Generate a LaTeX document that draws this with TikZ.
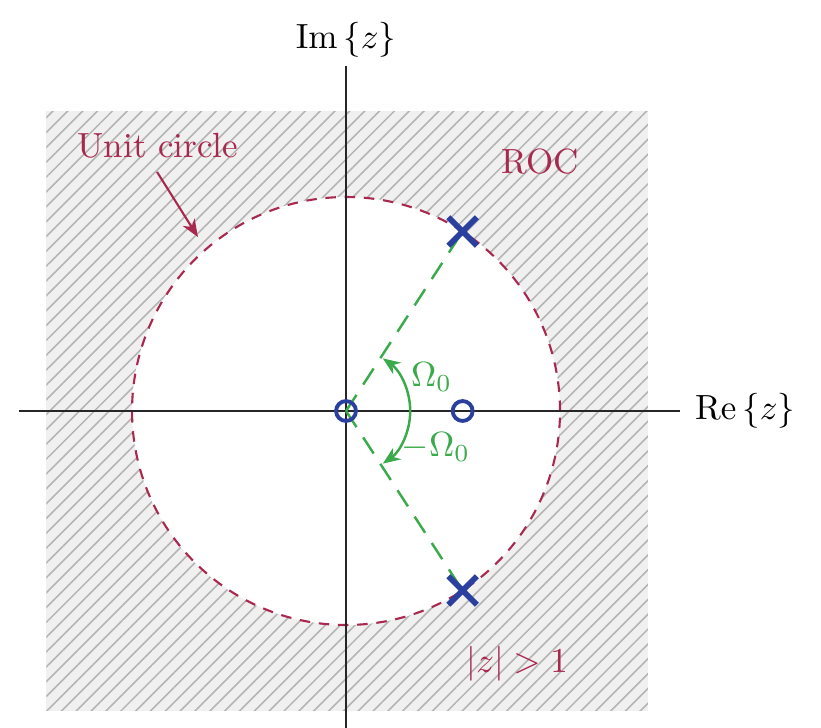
\documentclass[tikz,border=0pt]{standalone}
\usetikzlibrary{patterns.meta,arrows.meta,shapes.misc}
\definecolor{rocred}{HTML}{A8284E}
\definecolor{pzblue}{HTML}{2A3F9E}
\definecolor{angreen}{HTML}{3AAA4A}
\definecolor{hatchgray}{HTML}{B4B4B4}
\definecolor{roc}{HTML}{F0F0F0}
\begin{document}
\begin{tikzpicture}[x=2.15cm,y=2.15cm,
  axis/.style={line width=0.6pt,black!85},
  pole/.style={cross out,draw=pzblue,line width=1.6pt,minimum size=0.23cm,inner sep=0pt},
  zero/.style={circle,draw=pzblue,line width=1.1pt,minimum size=0.2cm,inner sep=0pt},
  anglab/.style={text=angreen},
  redlab/.style={text=rocred}]
\useasboundingbox (-1.617,-1.4813) rectangle (2.2196,1.9206);
% ROC shading
\fill[roc] (-1.4,-1.4) rectangle (1.41,1.4);
\fill[pattern={Lines[angle=45,distance=3pt,line width=0.45pt]},pattern color=hatchgray] (-1.4,-1.4) rectangle (1.41,1.4);
% unit circle interior
\fill[white] (0,0) circle (1);
\draw[rocred,line width=0.6pt,dash pattern=on 3pt off 2.5pt] (0,0) circle (1);
% axes
\coordinate (xl) at (-1.53,0);
\coordinate (xr) at (1.56,0);
\coordinate (yb) at (0,-1.48);
\coordinate (yt) at (0,1.61);
\draw[axis] (xl) -- (xr);
\draw[axis] (yb) -- (yt);
\node[text=black] (re) at (1.865,0) {$\mathrm{Re}\left\{z\right\}$};
\node[text=black] (im) at (0,1.734) {$\mathrm{Im}\left\{z\right\}$};
% poles and zeros
\coordinate (o) at (0,0);
\coordinate (p1) at (57:1);
\coordinate (p2) at (-57:1);
\draw[angreen,line width=0.7pt,dash pattern=on 5.5pt off 3.5pt] (o) -- (p1);
\draw[angreen,line width=0.7pt,dash pattern=on 5.5pt off 3.5pt] (o) -- (p2);
\node[zero] (z1) at (o) {};
\node[zero] (z2) at (0.545,0) {};
\node[pole] (x1) at (p1) {};
\node[pole] (x2) at (p2) {};
% angle arcs
\draw[angreen,line width=0.7pt,-{Stealth[length=5pt,width=4pt]}] (0.3,0) arc (0:55:0.3);
\draw[angreen,line width=0.7pt,-{Stealth[length=5pt,width=4pt]}] (0.3,0) arc (0:-55:0.3);
\node[anglab] (om1) at (0.40,0.16) {$\Omega_0$};
\node[anglab] (om2) at (0.42,-0.17) {$-\Omega_0$};
% labels
\node[redlab] (uc) at (-0.879,1.238) {Unit circle};
\coordinate (ucstart) at (-0.883,1.117);
\coordinate (uctip) at (-0.692,0.813);
\draw[rocred,line width=0.6pt,-{Stealth[length=5pt,width=4pt]}] (ucstart) -- (uctip);
\node[redlab] (rocl) at (0.907,1.164) {ROC};
\node[redlab] (mag) at (0.80,-1.18) {$|z|>1$};
\end{tikzpicture}
\end{document}
